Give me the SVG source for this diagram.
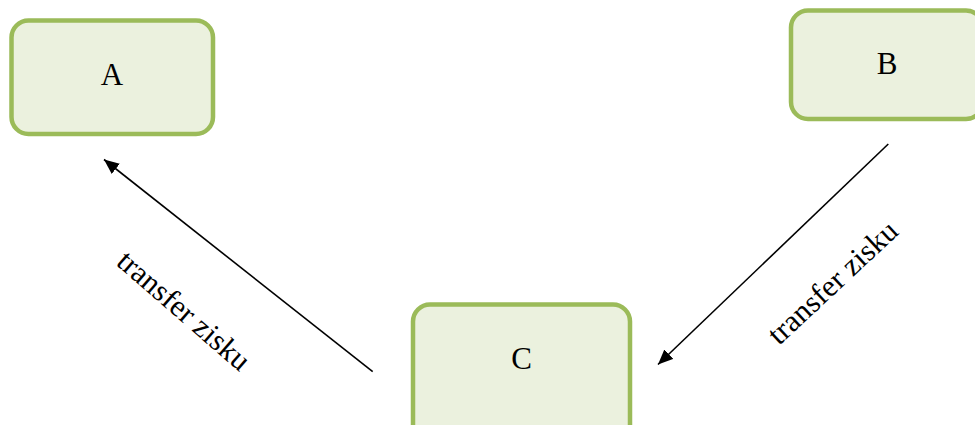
<svg xmlns="http://www.w3.org/2000/svg" width="975" height="425" viewBox="0 0 975 425">
<style>
.node rect{fill:#EBF1DE;stroke:#9BBB59;stroke-width:4.5}
.node text{font-family:"Liberation Serif","Times New Roman",serif;font-size:31px;fill:#000;text-anchor:middle}
.conn line{stroke:#000;stroke-width:1.6;fill:none}
.lbl{font-family:"Liberation Serif","Times New Roman",serif;font-size:30.5px;fill:#000}
</style>
<defs>
<marker id="ah" markerUnits="userSpaceOnUse" markerWidth="16" markerHeight="14" refX="15" refY="6.5" orient="auto">
<path d="M0,0 L15,6.5 L0,13 z" fill="#000"/>
</marker>
</defs>
<rect width="975" height="425" fill="#fff"/>
<g id="A" class="node">
<rect x="11.5" y="20.5" width="201.5" height="113.5" rx="17"/>
<text x="112" y="85">A</text>
</g>
<g id="B" class="node">
<rect x="791" y="10.5" width="192" height="108.5" rx="17"/>
<text x="887" y="74">B</text>
</g>
<g id="C" class="node">
<rect x="413" y="304.5" width="217" height="140" rx="17"/>
<text x="521.5" y="369">C</text>
</g>
<g id="connectors" class="conn">
<line x1="372.7" y1="371.7" x2="104" y2="159.5" marker-end="url(#ah)"/>
<line x1="888.3" y1="144" x2="658" y2="364.5" marker-end="url(#ah)"/>
</g>
<g id="labels">
<text class="lbl" transform="translate(115,264) rotate(41)">transfer zisku</text>
<text class="lbl" transform="translate(779,346) rotate(-43)">transfer zisku</text>
</g>
</svg>
